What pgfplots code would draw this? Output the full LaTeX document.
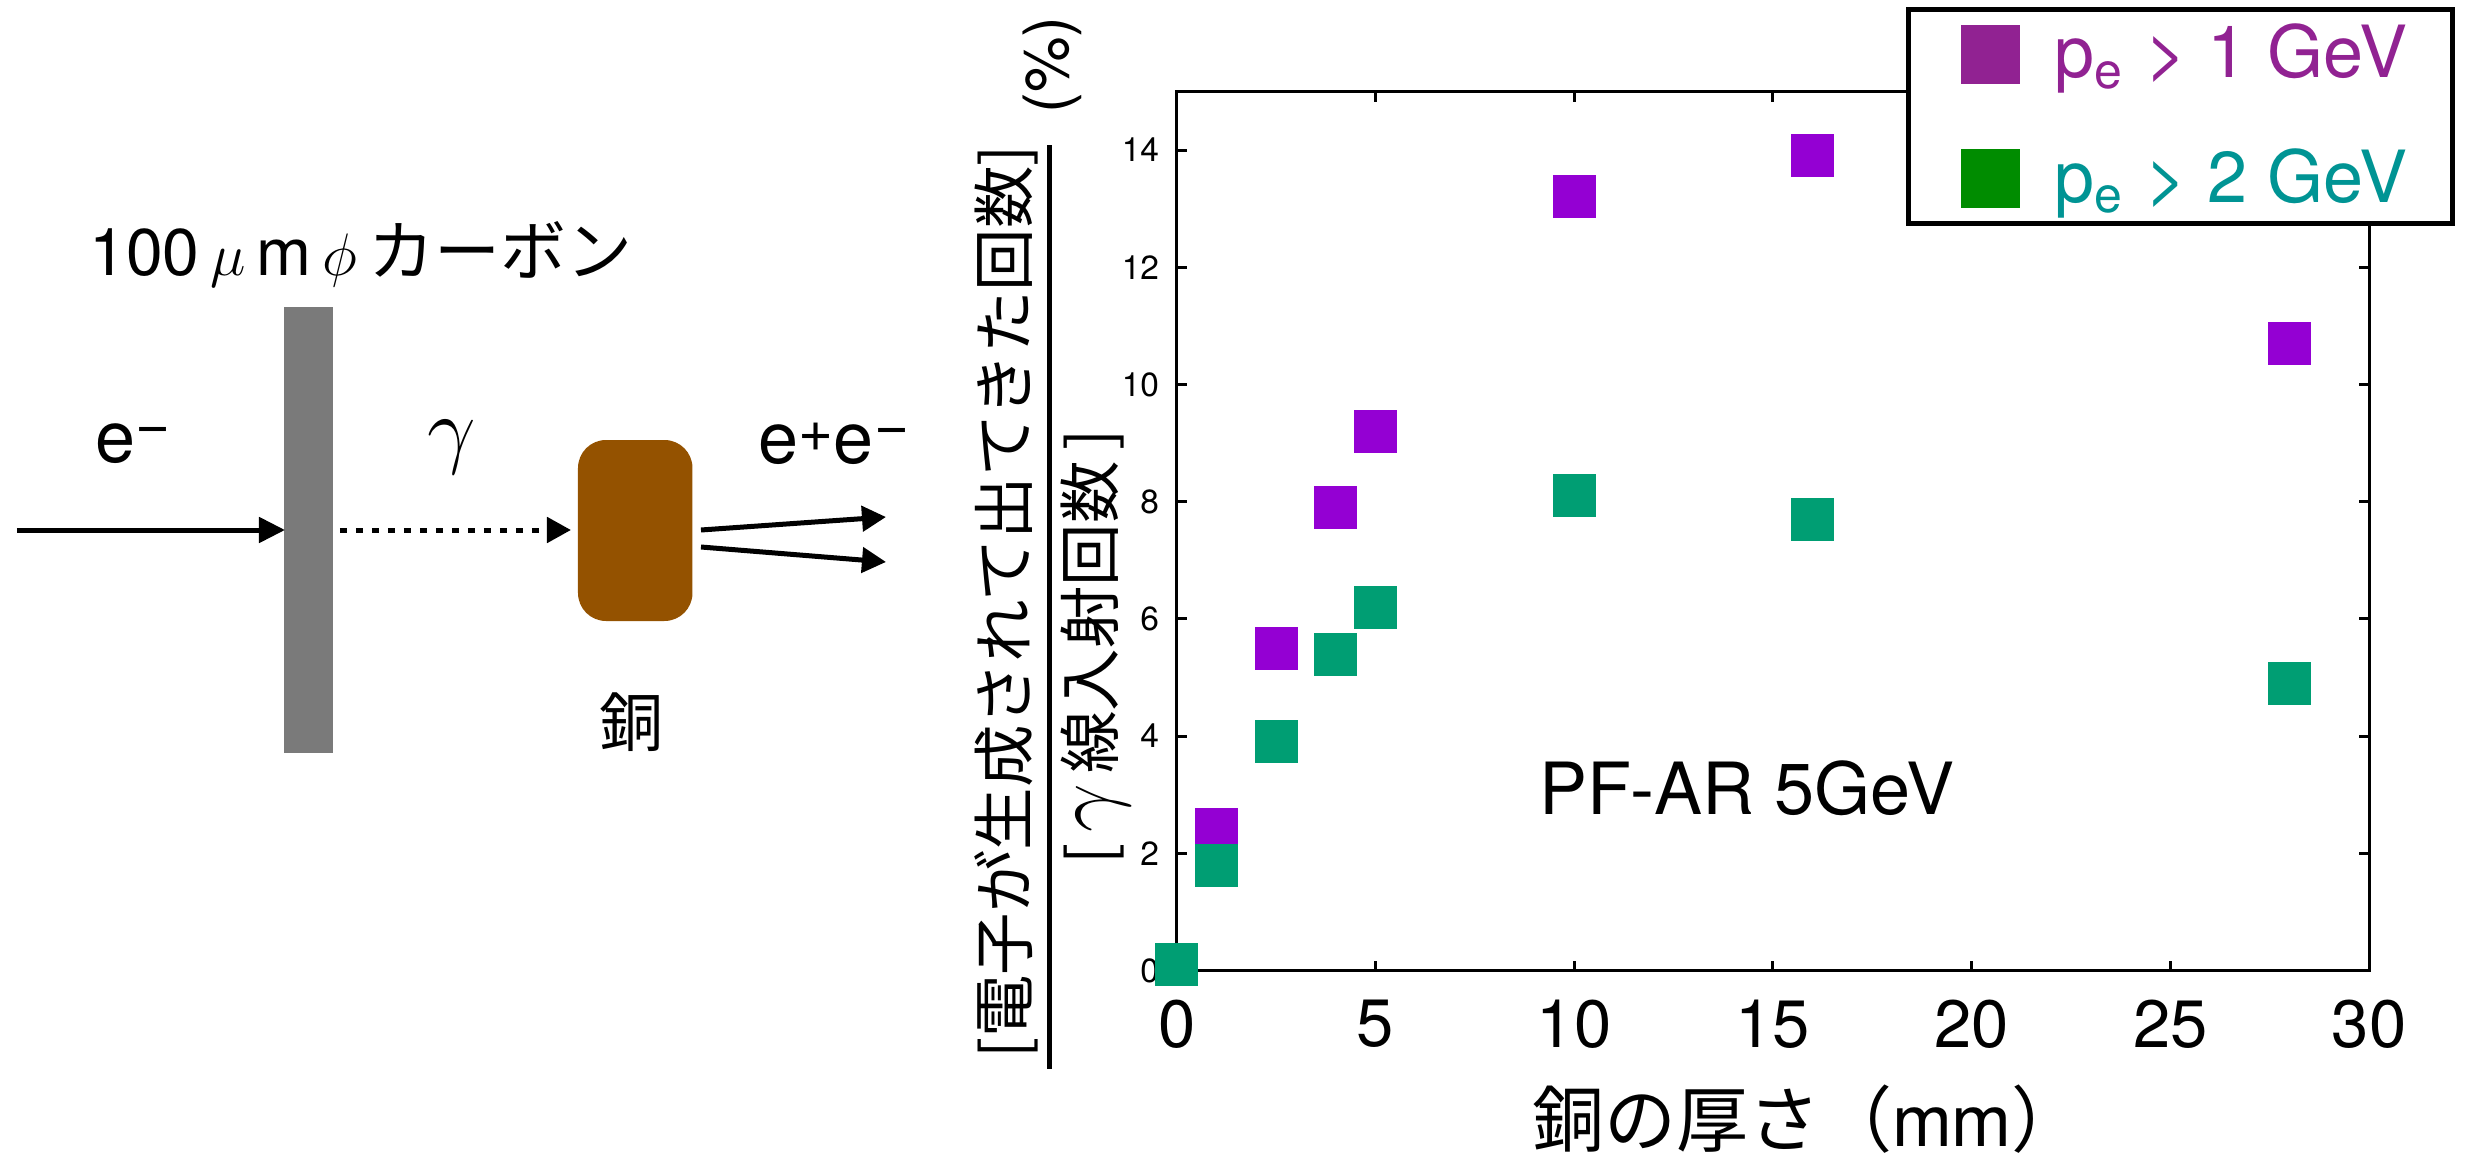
\documentclass[border=0pt]{standalone}
\usepackage{pgfplots}
\pgfplotsset{compat=1.18}
\usetikzlibrary{arrows.meta}
\usepackage{fontspec}
\setmainfont{TeX Gyre Heros}
\newfontfamily\jp{Noto Sans CJK JP}

\definecolor{violetmk}{RGB}{148,0,211}
\definecolor{greenmk}{RGB}{0,158,115}
\definecolor{legviolet}{RGB}{145,34,146}
\definecolor{leggreen}{RGB}{0,140,0}
\definecolor{legteal}{RGB}{0,148,148}
\definecolor{carbon}{RGB}{122,122,122}
\definecolor{copper}{RGB}{148,82,0}

\newcommand{\fs}[1]{\fontsize{#1}{#1}\selectfont}
\newcommand{\supm}{\raisebox{3.6pt}{\fs{12}−}}
\newcommand{\supp}{\raisebox{2.4pt}{\fs{12}+}}

\begin{document}
\begin{tikzpicture}
\path[use as bounding box] (0,0) rectangle (493pt,231.2pt);

% pixel-like grid, origin at the top-left corner
\begin{scope}[shift={(0pt,231.2pt)},x=0.2pt,y=-0.2pt]
% --- experimental setup sketch ---
\fill[carbon] (284.5,307) rectangle (333,753);
\draw[line width=1pt,-{Triangle[length=5.2pt,width=5pt]}] (17,530) -- (285,530);
\draw[line width=1pt,dash pattern=on 1.4pt off 1.8pt] (340,530) -- (546,530);
\draw[line width=1pt,-{Triangle[length=4.8pt,width=5pt]}] (555,530) -- (571,530);
\fill[copper,rounded corners=5.6pt] (578,440) rectangle (692.5,621);
\draw[line width=1pt,-{Triangle[length=4.8pt,width=5pt]}] (701,530) -- (886,517);
\draw[line width=1pt,-{Triangle[length=4.8pt,width=5pt]}] (701,547) -- (886,562);

\node[font=\fs{14.4}] at (133,444) {e\supm};
\node[font=\fs{16}] at (452,447) {$\gamma$};
\node[font=\fs{14.4}] at (834,444) {e\supp e\supm};
\node[font=\jp\fs{12.8}] at (632,722) {銅};
\node[font=\fs{13.2}] at (361,254) {100\hspace{2.2pt}$\mu$\hspace{2.2pt}m\hspace{2.2pt}$\phi$\hspace{2.2pt}{\jp カーボン}};

% --- y label written as a fraction ---
\node[rotate=90,font=\jp\fs{12.5}] at (1006,602) {[電子が生成されて出てきた回数]};
\draw[line width=1pt] (1050,145) -- (1050,1069);
\node[rotate=90,font=\jp\fs{12.5}] at (1096,647) {[\,{\fs{16}$\gamma$}\,線入射回数\,]};
\node[rotate=90,font=\fs{12.5}] at (1052,65) {(\%)};

\node[font=\fs{14.4}] at (1747,788) {PF-AR 5GeV};
\node[font=\fs{14.4}] at (1808,1119) {{\jp 銅の厚さ（}mm{\jp ）}};
\end{scope}

% --- measured fractions ---
\begin{axis}[
  at={(235.34pt,37.1pt)}, anchor=south west,
  scale only axis, width=238.46pt, height=175.8pt,
  xmin=0, xmax=30, ymin=0, ymax=15,
  xtick={0,5,...,30}, ytick={0,2,...,14},
  tick align=inside, major tick length=2pt,
  axis line style={line width=0.6pt},
  every tick/.style={black,line width=0.6pt},
  clip=false,
  /pgf/number format/assume math mode=true,
  xticklabel style={font=\fs{13.4},anchor=center,yshift=-10.7pt},
  yticklabel style={font=\fs{6.7}},
  legend cell align=left,
  legend style={at={(1.0721,1.096)}, anchor=north east,
    draw=black, line width=1pt, fill=white,
    font=\fs{14.4},
    inner xsep=6pt, inner ysep=0.3pt, row sep=7.6pt,
    nodes={inner sep=3pt, text height=10.3pt, text depth=1pt},
    column sep=4pt},
]
\addplot[only marks, mark=square*, mark size=4.1pt,
  mark options={draw=violetmk, fill=violetmk, line width=0.4pt},
  legend image code/.code={\path (-4.4pt,0pt);
    \fill[legviolet] (0pt,-5.4pt) rectangle (10.8pt,5.4pt);}]
  coordinates {(1,2.4) (2.5,5.5) (4,7.9) (5,9.2) (10,13.2) (16,13.9) (28,10.7)};
\addlegendentry{\textcolor{legviolet}{p\textsubscript{e} > 1 GeV}}
\addplot[only marks, mark=square*, mark size=4.1pt,
  mark options={draw=greenmk, fill=greenmk, line width=0.4pt},
  legend image code/.code={\path (-4.4pt,0pt);
    \fill[leggreen] (0pt,-5.4pt) rectangle (10.8pt,5.4pt);}]
  coordinates {(0,0.1) (1,1.8) (2.5,3.9) (4,5.4) (5,6.2) (10,8.1) (16,7.7) (28,4.9)};
\addlegendentry{\textcolor{legteal}{p\textsubscript{e} > 2 GeV}}
\end{axis}
\end{tikzpicture}
\end{document}
